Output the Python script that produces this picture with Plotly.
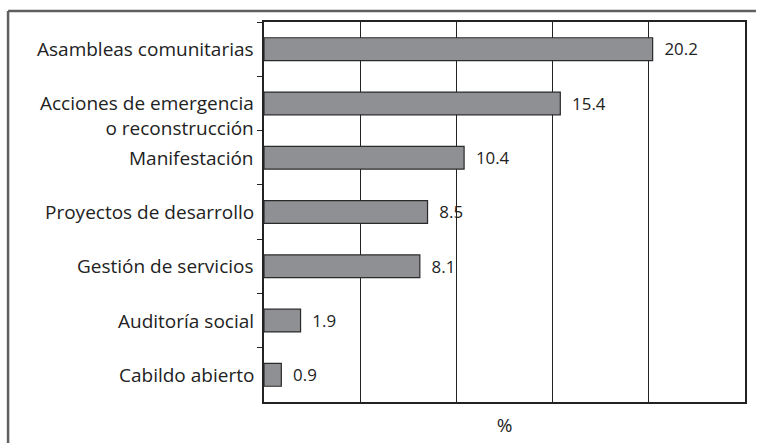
import plotly.graph_objects as go

categories = [
    "Asambleas comunitarias",
    "Acciones de emergencia<br>o reconstrucción",
    "Manifestación",
    "Proyectos de desarrollo",
    "Gestión de servicios",
    "Auditoría social",
    "Cabildo abierto",
]
values = [20.2, 15.4, 10.4, 8.5, 8.1, 1.9, 0.9]
x_title = "%"

FONT = "Open Sans"
FS = 19
TXT = "#222222"

fig = go.Figure()
fig.add_trace(go.Bar(
    y=categories,
    x=values,
    orientation="h",
    width=0.42,
    marker=dict(color="#8f9093", line=dict(color="#2a2a2a", width=1.2)),
    text=values,
    texttemplate="\u00a0\u00a0%{x}",
    textposition="outside",
    textfont=dict(family=FONT, size=FS + 1, color=TXT),
    cliponaxis=False,
    hoverinfo="skip",
))

for i, c in enumerate(categories):
    fig.add_annotation(
        x=0, y=c, xref="x", yref="y",
        text=c, showarrow=False,
        xanchor="right", align="right",
        xshift=-8, yshift=(-12 if "<br>" in c else 0),
        font=dict(family=FONT, size=FS, color=TXT),
    )

# outer frame (left and top edges)
fig.add_shape(type="line", xref="paper", yref="paper",
              x0=-257/483, x1=-257/483, y0=-41/380, y1=(402-11)/380,
              line=dict(color="#5f5f5f", width=2.5))
fig.add_shape(type="line", xref="paper", yref="paper",
              x0=-257/483, x1=(758-264)/483, y0=(402-11)/380, y1=(402-11)/380,
              line=dict(color="#5f5f5f", width=2.5))

fig.update_layout(
    width=758, height=443,
    margin=dict(l=264, r=11, t=22, b=41),
    paper_bgcolor="white", plot_bgcolor="white",
    showlegend=False,
    bargap=0.58,
    font=dict(family=FONT, size=FS, color=TXT),
    xaxis=dict(
        range=[0, 25], dtick=5, showgrid=True, gridcolor="#222222", gridwidth=1.2,
        showticklabels=False, ticks="", zeroline=False,
        showline=True, linecolor="#222222", linewidth=1.5, mirror=True,
        title=dict(text=x_title, font=dict(family=FONT, size=FS, color=TXT), standoff=16),
        fixedrange=True,
    ),
    yaxis=dict(
        autorange="reversed", showticklabels=False,
        ticks="outside", tickson="boundaries", ticklen=5, tickcolor="#222222", tickwidth=1.2,
        showline=True, linecolor="#222222", linewidth=1.5, mirror=True,
        showgrid=False, fixedrange=True,
    ),
)

fig.write_html(
    "out.html",
    config={"displayModeBar": False},
    post_script="document.body.style.margin='0';document.body.style.padding='0';",
)
